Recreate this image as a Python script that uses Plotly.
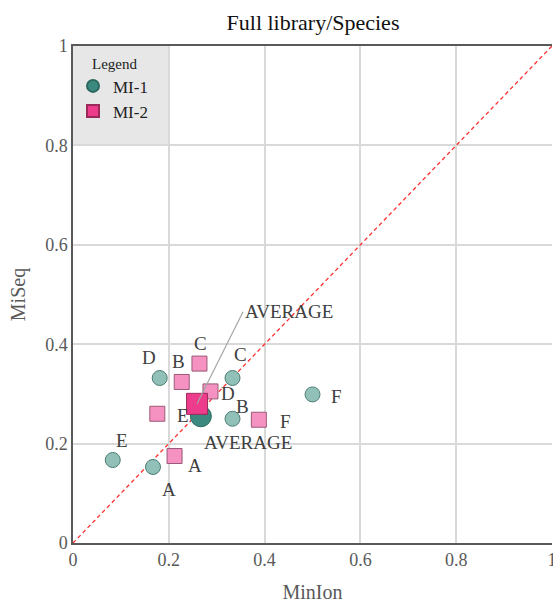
import plotly.graph_objects as go

# ---- data ----
labels_mi1 = ["A", "B", "C", "D", "E", "F"]
minion_mi1 = [0.167, 0.333, 0.333, 0.181, 0.083, 0.500]
miseq_mi1 = [0.153, 0.250, 0.332, 0.332, 0.167, 0.299]
avg_mi1 = (0.267, 0.255)

labels_mi2 = ["A", "B", "C", "D", "E", "F"]
minion_mi2 = [0.212, 0.227, 0.264, 0.287, 0.176, 0.388]
miseq_mi2 = [0.175, 0.324, 0.361, 0.305, 0.260, 0.248]
avg_mi2 = (0.259, 0.280)

x_ticks = [0, 0.2, 0.4, 0.6, 0.8, 1]
y_ticks = [0, 0.2, 0.4, 0.6, 0.8, 1]

# label pixel offsets (dx right, dy down)
off_mi1 = {"A": (16, 23), "B": (10, -12), "C": (8, -24), "D": (-11, -21), "E": (9, -20), "F": (24, 2)}
off_mi2 = {"A": (20, 9), "B": (-3, -20), "C": (1, -20), "D": (18, 2), "E": (26, 2), "F": (27, 2)}

FONT = "Times New Roman, Liberation Serif, serif"
TXT = "#404040"

fig = go.Figure()

# diagonal y = x
fig.add_trace(go.Scatter(x=[0, 1], y=[0, 1], mode="lines",
                         line=dict(color="#ff3030", dash="4px,3px", width=1.3),
                         showlegend=False, hoverinfo="skip"))

fig.add_trace(go.Scatter(x=minion_mi1, y=miseq_mi1, mode="markers", showlegend=False,
                         marker=dict(symbol="circle", size=15, color="#90c0b8",
                                     line=dict(color="#4e7d76", width=1))))
fig.add_trace(go.Scatter(x=minion_mi2, y=miseq_mi2, mode="markers", showlegend=False,
                         marker=dict(symbol="square", size=15, color="#f592c2",
                                     line=dict(color="#9a5a76", width=1))))
fig.add_trace(go.Scatter(x=[avg_mi1[0]], y=[avg_mi1[1]], mode="markers", name="MI-1",
                         marker=dict(symbol="circle", size=21, color="#3c8a7f",
                                     line=dict(color="#2d6860", width=1))))
fig.add_trace(go.Scatter(x=[avg_mi2[0]], y=[avg_mi2[1]], mode="markers", name="MI-2",
                         marker=dict(symbol="square", size=21, color="#ee3c8c",
                                     line=dict(color="#9a2a5a", width=1))))

LF = dict(family=FONT, size=19, color=TXT)
annotations = []
for lab, x, y in zip(labels_mi1, minion_mi1, miseq_mi1):
    dx, dy = off_mi1[lab]
    annotations.append(dict(x=x, y=y, text=lab, showarrow=False, xshift=dx, yshift=-dy, font=LF))
for lab, x, y in zip(labels_mi2, minion_mi2, miseq_mi2):
    dx, dy = off_mi2[lab]
    annotations.append(dict(x=x, y=y, text=lab, showarrow=False, xshift=dx, yshift=-dy, font=LF))
annotations.append(dict(x=avg_mi1[0], y=avg_mi1[1], text="AVERAGE", showarrow=False,
                        xshift=47, yshift=-26, font=LF))
annotations.append(dict(x=avg_mi2[0], y=avg_mi2[1], text="AVERAGE", showarrow=True,
                        arrowhead=0, arrowwidth=1.2, arrowcolor="#a6a6a6",
                        ax=46, ay=-92, xanchor="left", standoff=0, startstandoff=0,
                        font=LF))
# legend heading
annotations.append(dict(xref="paper", yref="paper", x=0.0355, y=0.964, xanchor="left",
                        yanchor="middle", text="Legend", showarrow=False,
                        font=dict(family=FONT, size=15, color="#222222")))

TF = dict(family=FONT, size=18, color="#595959")
xaxis = dict(range=[0, 1], showgrid=True, gridcolor="#d9d9d9", gridwidth=1.5,
             zeroline=False, showline=True, linecolor="#595959", linewidth=1.5,
             mirror=True, ticks="", tickfont=TF, ticklabeloverflow="allow", automargin=False,
             tickvals=x_ticks, ticktext=[str(v) for v in x_ticks],
             title=dict(text="MinIon", font=dict(family=FONT, size=20, color="#595959"), standoff=16))
yaxis = dict(range=[0, 1], showgrid=True, gridcolor="#d9d9d9", gridwidth=1.5,
             zeroline=False, showline=True, linecolor="#595959", linewidth=1.5,
             mirror=False, ticks="", tickfont=TF, automargin=False,
             tickvals=y_ticks, ticktext=[str(v) for v in y_ticks],
             title=dict(text="MiSeq", font=dict(family=FONT, size=20, color="#595959"), standoff=14))

fig.update_layout(
    width=553, height=603,
    margin=dict(l=73, r=1, t=46, b=60, autoexpand=False),
    plot_bgcolor="white", paper_bgcolor="white",
    title=dict(text="Full library/Species", x=0.566, xanchor="center", y=0.963, yanchor="middle",
               font=dict(family=FONT, size=22, color="#111111")),
    xaxis=xaxis, yaxis=yaxis,
    legend=dict(x=0.0, y=0.955, xanchor="left", yanchor="top",
                bgcolor="rgba(0,0,0,0)", font=dict(family=FONT, size=17, color="#222222"),
                itemsizing="constant", tracegroupgap=2),
    shapes=[dict(type="rect", xref="x", yref="y", x0=0, x1=0.2, y0=0.8, y1=1,
                 fillcolor="#e7e7e7", line=dict(width=0), layer="below")],
    annotations=annotations,
)

fig.write_html("out.html")
